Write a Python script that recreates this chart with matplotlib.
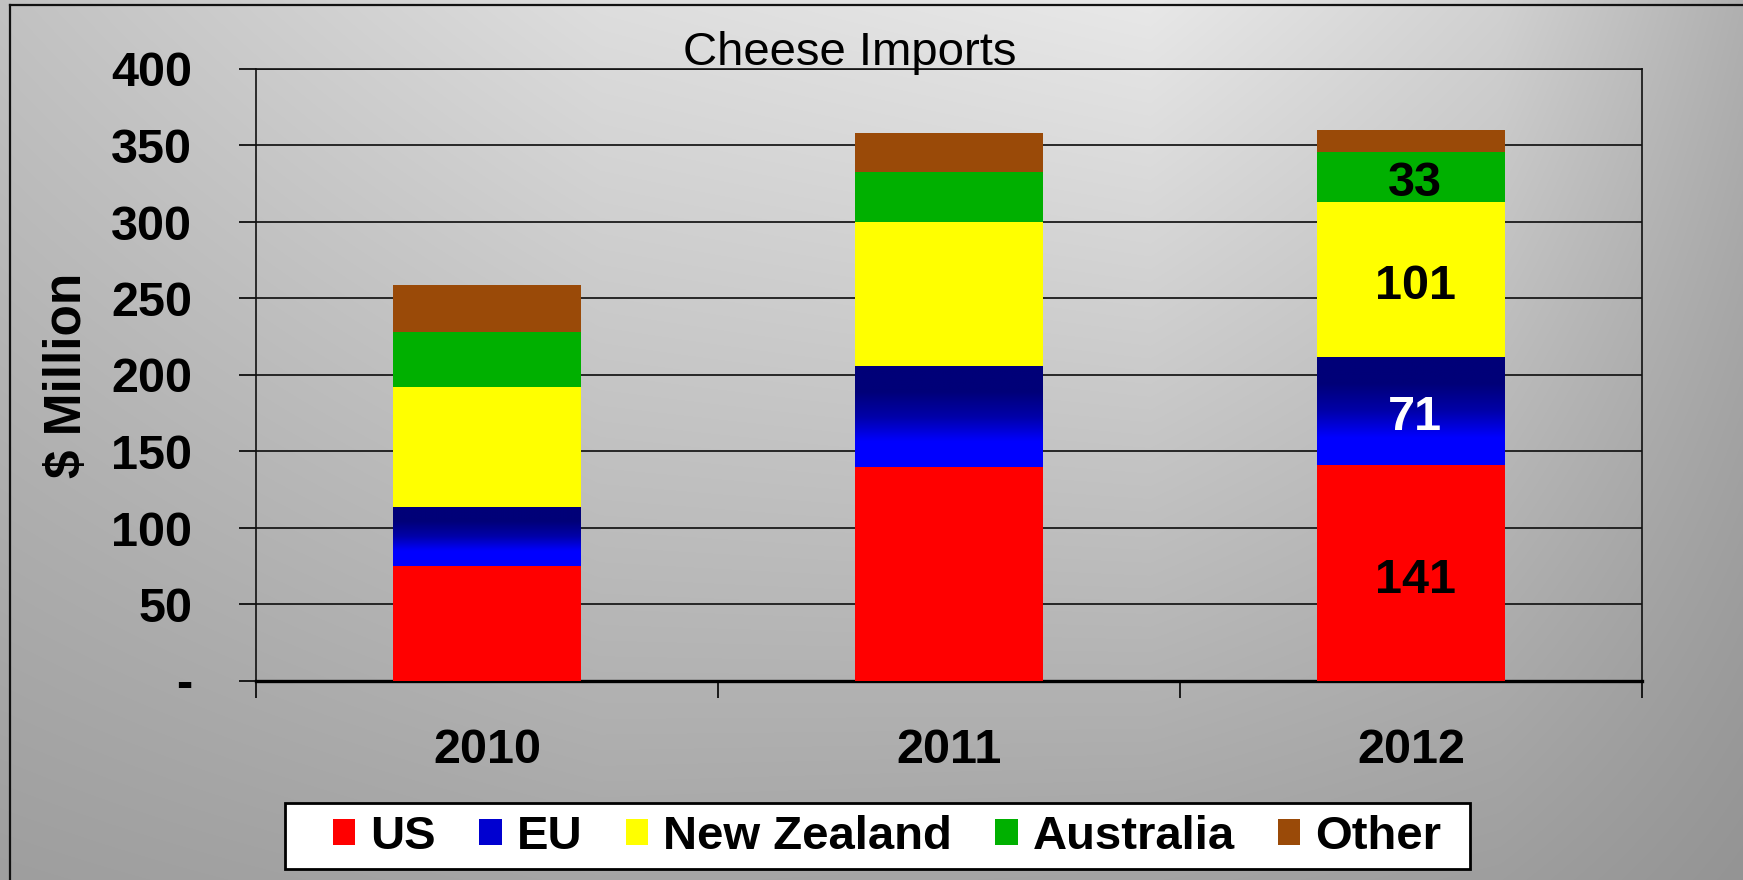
import numpy as np
import matplotlib
matplotlib.use("Agg")
import matplotlib.pyplot as plt
from matplotlib.colors import LinearSegmentedColormap
from matplotlib.lines import Line2D
from matplotlib.patches import Rectangle

plt.rcParams['font.family'] = ['Liberation Sans', 'DejaVu Sans']

# data (US$ million)
years = ['2010', '2011', '2012']
us = [75, 140, 141]
eu = [39, 66, 71]
nz = [78, 94, 101]
aus = [36, 33, 33]
other = [31, 25, 14]

series = [
    ('US', us, '#ff0000'),
    ('EU', eu, '#0000d0'),
    ('New Zealand', nz, '#ffff00'),
    ('Australia', aus, '#00b000'),
    ('Other', other, '#9a4a08'),
]
# which year gets its values printed, and text colour per series
label_year = '2012'
label_colors = {'US': 'black', 'EU': 'white', 'New Zealand': 'black', 'Australia': 'black'}

W, H = 1743, 880
fig = plt.figure(figsize=(W / 100, H / 100), dpi=100)

# grey gradient background
bg = fig.add_axes([0, 0, 1, 1], zorder=-5)
xs = np.arange(W)
top = np.interp(xs, [0, 600, 1150, 1500, W], [0.76, 0.87, 0.91, 0.82, 0.69])
bot = np.interp(xs, [0, 600, 1150, 1500, W], [0.62, 0.65, 0.64, 0.62, 0.58])
t = np.linspace(0, 1, H)[:, None]
shade = top[None, :] * (1 - t) + bot[None, :] * t
bg.imshow(np.dstack([shade] * 3), aspect='auto', extent=[0, W, H, 0])
bg.set_xlim(0, W)
bg.set_ylim(H, 0)
bg.axis('off')
bg.add_line(Line2D([10, 10], [5, H], color='#111111', lw=1.6))
bg.add_line(Line2D([10, W], [5, 5], color='#111111', lw=1.6))
# legend box
bg.add_patch(Rectangle((285, 803), 1470 - 285, 869 - 803, facecolor='white',
                       edgecolor='black', lw=2))

ax = fig.add_axes([256 / W, 1 - 681 / H, (1642 - 256) / W, (681 - 69) / H])
ax.set_facecolor('none')

x = np.arange(len(years))
width = 0.405
bottom = np.zeros(len(years))
eu_cmap = LinearSegmentedColormap.from_list('eu', ['#0000ff', '#0000ff', '#0000a8', '#000078', '#000078'])
for name, vals, col in series:
    bars = ax.bar(x, vals, width, bottom=bottom, color=col, zorder=3, label=name)
    if name == 'EU':
        grad = np.linspace(0, 1, 200)[:, None]
        for b in bars:
            x0, y0 = b.get_x(), b.get_y()
            im = ax.imshow(grad, cmap=eu_cmap, origin='lower', aspect='auto', zorder=3.5,
                           extent=[x0, x0 + b.get_width(), y0, y0 + b.get_height()])
            im.set_clip_path(b)
    for i, (v, b0) in enumerate(zip(vals, bottom)):
        if years[i] == label_year and name in label_colors:
            ax.annotate(str(v), (x[i], b0 + v / 2), xytext=(3, -5), textcoords='offset points',
                        ha='center', va='center', fontsize=35, fontweight='bold',
                        color=label_colors[name], zorder=5)
    bottom = bottom + np.array(vals)

ax.set_xlim(-0.5, 2.5)
ax.set_ylim(0, 400)

yticks = np.arange(0, 401, 50)
ax.set_yticks(yticks)
ax.set_yticklabels(['-'] + [str(v) for v in yticks[1:]])
ax.yaxis.grid(True, color='#1a1a1a', lw=1.3, zorder=1)
ax.set_axisbelow(True)

ax.set_xticks(x)
ax.set_xticklabels(years)
ax.set_xticks([-0.5, 0.5, 1.5, 2.5], minor=True)
ax.tick_params(axis='x', which='major', length=0, pad=34, labelsize=35)
ax.tick_params(axis='x', which='minor', length=12, width=1.2, direction='out')
ax.tick_params(axis='y', length=12, width=1.2, direction='out', pad=34, labelsize=35)
for lab in ax.get_xticklabels() + ax.get_yticklabels():
    lab.set_fontweight('bold')

for s in ['left', 'right', 'top']:
    ax.spines[s].set_linewidth(1.2)
    ax.spines[s].set_color('#111111')
ax.spines['bottom'].set_linewidth(2.4)

ax.set_ylabel('$ Million', fontsize=37, fontweight='bold')
ax.yaxis.set_label_coords(-0.118, 0.5)

fig.text(850 / W, 1 - 53 / H, 'Cheese Imports', ha='center', va='center', fontsize=34)

leg = fig.legend(loc='center left', bbox_to_anchor=(333 / W, 1 - 837 / H), ncol=5,
                 frameon=False, handlelength=0.47, handleheight=0.47, handletextpad=0.32,
                 columnspacing=0.92, borderpad=0, borderaxespad=0,
                 prop={'size': 34, 'weight': 'bold'})

fig.savefig('out.png', dpi=100)
